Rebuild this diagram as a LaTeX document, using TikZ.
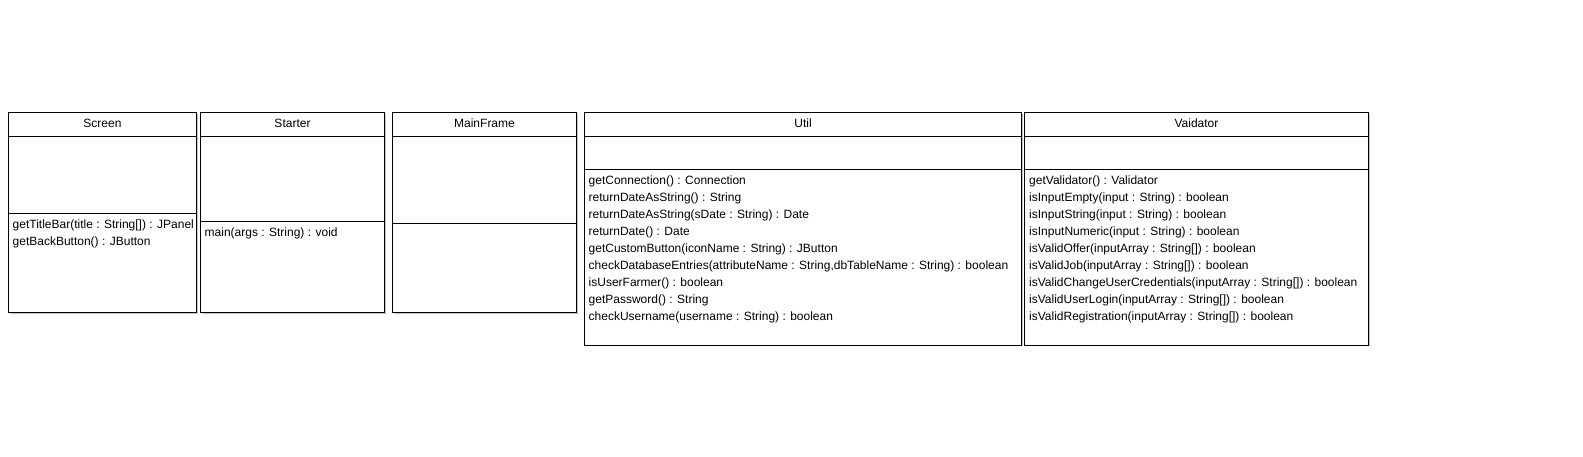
\documentclass[tikz,border=0pt]{standalone}
\usepackage{fontspec}
\setmainfont{Liberation Sans}
\usetikzlibrary{shadows}
\begin{document}
\begin{tikzpicture}[x=1pt,y=-1pt,
  cls/.style={draw, line width=1pt, anchor=north west, inner sep=0pt, outer sep=0pt, fill=white,
    drop shadow={shadow xshift=1.2pt, shadow yshift=-1.2pt, opacity=0.45, fill=gray}},
  sep/.style={line width=1pt},
  ttl/.style={anchor=base, inner sep=0pt, font=\fontsize{12}{17}\selectfont},
  meth/.style={anchor=base west, inner sep=0pt, font=\fontsize{12}{17}\selectfont}]
\useasboundingbox[fill=white] (0,0) rectangle (1583,456);

% Screen
\node[cls, minimum width=188pt, minimum height=200pt] (screen) at (8.5,112.5) {};
\draw[sep] (screen.west |- 0,136) -- (screen.east |- 0,136);
\draw[sep] (screen.west |- 0,213.5) -- (screen.east |- 0,213.5);
\node[ttl] (screen-t) at (screen.north |- 0,127.5) {Screen};
\node[meth] (screen-m1) at (12.5,228) {getTitleBar(title : String[]) : JPanel};
\node[meth] (screen-m2) at (12.5,245) {getBackButton() : JButton};

% Starter
\node[cls, minimum width=184pt, minimum height=200pt] (starter) at (200.5,112.5) {};
\draw[sep] (starter.west |- 0,136) -- (starter.east |- 0,136);
\draw[sep] (starter.west |- 0,221.5) -- (starter.east |- 0,221.5);
\node[ttl] (starter-t) at (starter.north |- 0,127.5) {Starter};
\node[meth] (starter-m1) at (204.5,236) {main(args : String) : void};

% MainFrame
\node[cls, minimum width=184pt, minimum height=200pt] (mainframe) at (392.5,112.5) {};
\draw[sep] (mainframe.west |- 0,136) -- (mainframe.east |- 0,136);
\draw[sep] (mainframe.west |- 0,223.5) -- (mainframe.east |- 0,223.5);
\node[ttl] (mainframe-t) at (mainframe.north |- 0,127.5) {MainFrame};

% Util
\node[cls, minimum width=437pt, minimum height=232.5pt] (util) at (584.5,112.5) {};
\draw[sep] (util.west |- 0,136) -- (util.east |- 0,136);
\draw[sep] (util.west |- 0,169.5) -- (util.east |- 0,169.5);
\node[ttl] (util-t) at (util.north |- 0,127.5) {Util};
\foreach \t [count=\i] in {
  {getConnection() : Connection},
  {returnDateAsString() : String},
  {returnDateAsString(sDate : String) : Date},
  {returnDate() : Date},
  {getCustomButton(iconName : String) : JButton},
  {checkDatabaseEntries(attributeName : String,dbTableName : String) : boolean},
  {isUserFarmer() : boolean},
  {getPassword() : String},
  {checkUsername(username : String) : boolean}}
  \node[meth] (util-m\i) at (588.5,{184.3+17*(\i-1)}) {\t};

% Vaidator
\node[cls, minimum width=344pt, minimum height=232.5pt] (validator) at (1024.5,112.5) {};
\draw[sep] (validator.west |- 0,136) -- (validator.east |- 0,136);
\draw[sep] (validator.west |- 0,169.5) -- (validator.east |- 0,169.5);
\node[ttl] (validator-t) at (validator.north |- 0,127.5) {Vaidator};
\foreach \t [count=\i] in {
  {getValidator() : Validator},
  {isInputEmpty(input : String) : boolean},
  {isInputString(input : String) : boolean},
  {isInputNumeric(input : String) : boolean},
  {isValidOffer(inputArray : String[]) : boolean},
  {isValidJob(inputArray : String[]) : boolean},
  {isValidChangeUserCredentials(inputArray : String[]) : boolean},
  {isValidUserLogin(inputArray : String[]) : boolean},
  {isValidRegistration(inputArray : String[]) : boolean}}
  \node[meth] (validator-m\i) at (1029,{184.3+17*(\i-1)}) {\t};
\end{tikzpicture}
\end{document}
